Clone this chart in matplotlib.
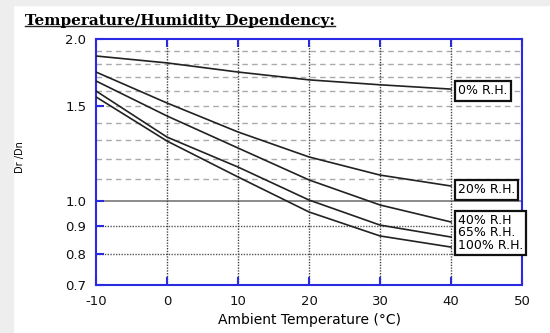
import matplotlib
matplotlib.use("Agg")
import matplotlib.pyplot as plt
import matplotlib.ticker as mticker
from matplotlib.patches import Rectangle
from matplotlib.lines import Line2D

# data
temps = [-10, 0, 10, 20, 30, 40]
rh_0 = [1.86, 1.806, 1.737, 1.68, 1.645, 1.615]
rh_20 = [1.737, 1.522, 1.345, 1.209, 1.119, 1.068]
rh_40 = [1.672, 1.440, 1.256, 1.096, 0.985, 0.916]
rh_65 = [1.602, 1.316, 1.158, 1.006, 0.904, 0.859]
rh_100 = [1.562, 1.294, 1.110, 0.956, 0.863, 0.823]

xticks = [-10, 0, 10, 20, 30, 40, 50]
yticks = [0.7, 0.8, 0.9, 1.0, 1.5, 2.0]
ytick_labels = ["0.7", "0.8", "0.9", "1.0", "1.5", "2.0"]
dashed_levels = [1.1, 1.2, 1.3, 1.4, 1.5, 1.6, 1.7, 1.8, 1.9]
dotted_levels = [0.8, 0.9]

plt.rcParams["font.family"] = ["DejaVu Sans"]
plt.rcParams["axes.unicode_minus"] = False
blue = "#2a2ae0"
curve_col = "#222222"

fig = plt.figure(figsize=(5.5, 3.33), dpi=100)
# light grey margin strips of the screenshot
fig.patches.append(Rectangle((0, 0), 13 / 550, 1, transform=fig.transFigure, color="#eeeeee", zorder=0))
fig.patches.append(Rectangle((0, 1 - 5 / 333), 1, 5 / 333, transform=fig.transFigure, color="#eeeeee", zorder=0))

ax = fig.add_axes([96 / 550, 1 - 285 / 333, 426 / 550, 246 / 333])
ax.set_yscale("log")
ax.set_xlim(-10, 50)
ax.set_ylim(0.7, 2.0)

for lv in dashed_levels:
    ax.axhline(lv, color="#aaaaaa", lw=1.0, ls=(0, (4, 3)), zorder=1)
for lv in dotted_levels:
    ax.axhline(lv, color="#555555", lw=1.0, ls=(0, (1, 1)), zorder=1)
ax.axhline(1.0, color="#777777", lw=1.2, zorder=1)
for xv in [0, 10, 20, 30, 40]:
    ax.axvline(xv, color="#444444", lw=1.0, ls=(0, (1, 1)), zorder=1)

for ys in [rh_0, rh_20, rh_40, rh_65, rh_100]:
    ax.plot(temps, ys, color=curve_col, lw=1.2, zorder=3)

ax.yaxis.set_major_locator(mticker.FixedLocator(yticks))
ax.yaxis.set_major_formatter(mticker.FixedFormatter(ytick_labels))
ax.yaxis.set_minor_locator(mticker.NullLocator())
ax.set_xticks(xticks)
for s in ax.spines.values():
    s.set_color(blue)
    s.set_linewidth(1.5)
ax.tick_params(axis="both", direction="in", color=blue, length=6, width=1.5,
               labelsize=9.5, labelcolor="#111111", top=True)
ax.tick_params(axis="x", pad=7)
ax.tick_params(axis="y", pad=7)

box = dict(boxstyle="square,pad=0.25", fc="white", ec="#111111", lw=1.6)
ax.text(41, 1.602, "0% R.H.", fontsize=9, va="center", ha="left",
        bbox=box, clip_on=False, zorder=5)
ax.text(41, 1.05, "20% R.H.", fontsize=9, va="center", ha="left",
        bbox=box, clip_on=False, zorder=5)
ax.text(41, 0.874, "40% R.H\n65% R.H.\n100% R.H.", fontsize=9,
        va="center", ha="left", linespacing=0.95, bbox=box, clip_on=False, zorder=5)

ax.set_xlabel("Ambient Temperature (°C)", fontsize=10, labelpad=4)
fig.text(20 / 550, 1 - 157 / 333, "Dr /Dn", rotation=90, fontsize=7,
         ha="center", va="center")

t = fig.text(25 / 550, 1 - 21 / 333, "Temperature/Humidity Dependency:",
             family=["DejaVu Serif"], weight="bold",
             fontsize=11, ha="left", va="center")
fig.canvas.draw()
bb = t.get_window_extent(fig.canvas.get_renderer()).transformed(fig.transFigure.inverted())
fig.add_artist(Line2D([bb.x0, bb.x1], [bb.y0 + 0.006, bb.y0 + 0.006],
                      transform=fig.transFigure, color="#222222", lw=1.0))

fig.savefig("out.png", dpi=100)
